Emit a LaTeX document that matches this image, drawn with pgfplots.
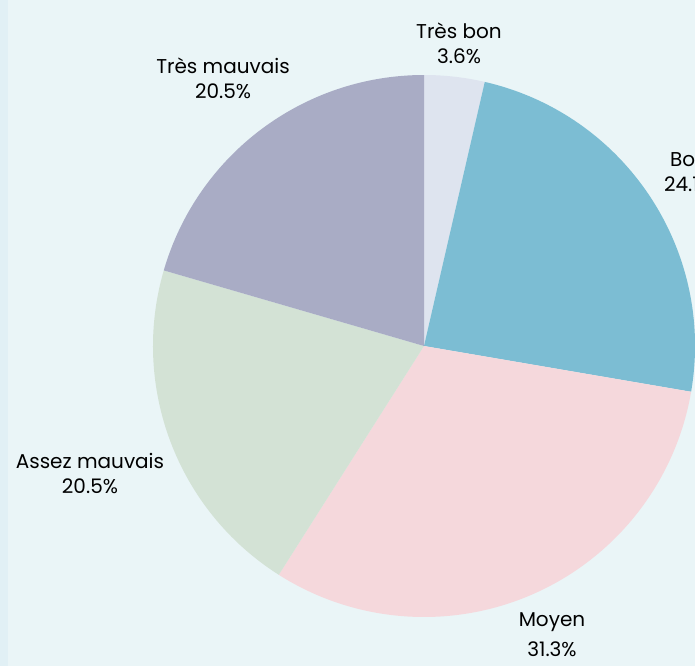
\documentclass[border=0pt]{standalone}
\usepackage{fontspec}
\setmainfont{Poppins}
\usepackage{pgfplots}
\pgfplotsset{compat=1.18}
\usepackage{pgfplotstable}
\definecolor{bgColor}{HTML}{EAF5F7}
\definecolor{stripColor}{HTML}{E1F0F5}
\definecolor{cTresBon}{HTML}{DEE4EF}
\definecolor{cBon}{HTML}{7CBDD3}
\definecolor{cMoyen}{HTML}{F5D8DC}
\definecolor{cAssez}{HTML}{D3E2D5}
\definecolor{cTresMauvais}{HTML}{A9ACC5}

% share of each answer, clockwise from the top
\pgfplotstableread[col sep=comma]{
pct,col
3.6,cTresBon
24.1,cBon
31.3,cMoyen
20.5,cAssez
20.5,cTresMauvais
}\pietable

\begin{document}
\begin{tikzpicture}
    % 1 px of the reference = 0.5pt
    \begin{axis}[
        scale only axis,
        width=347.5pt,
        height=333pt,
        xmin=-424, xmax=271,
        ymin=-320, ymax=346,
        axis lines=none,
        clip=true,
        axis background/.style={fill=bgColor},
    ]
        \fill[stripColor] (axis cs:-424,-320) rectangle (axis cs:-416,346);

        \def\cum{0}
        \pgfplotsforeachungrouped \i in {0,...,4}{
            \pgfplotstablegetelem{\i}{pct}\of\pietable \let\p=\pgfplotsretval
            \pgfplotstablegetelem{\i}{col}\of\pietable \let\c=\pgfplotsretval
            \pgfmathsetmacro\a{90-3.6*\cum}
            \pgfmathsetmacro\b{90-3.6*(\cum+\p)}
            \edef\slice{\noexpand\fill[\c] (axis cs:0,0) -- (axis cs:{271*cos(\a)},{271*sin(\a)})
                arc[start angle=\a, end angle=\b, radius=135.5pt] -- cycle;}
            \slice
            \pgfmathsetmacro\cum{\cum+\p}
        }

        % the Bon label runs off the right edge, as in the original
        \begin{scope}[every node/.style={align=center, font=\fontsize{10}{12.5}\selectfont, text=black}]
            \node at (axis cs:35,303) {Très bon\\3.6\%};
            \node at (axis cs:265,174) {Bon\\24.1\%};
            \node at (axis cs:128,-289) {Moyen\\[2.5pt]31.3\%};
            \node at (axis cs:-334,-128) {Assez mauvais\\20.5\%};
            \node at (axis cs:-201,268) {Très mauvais\\20.5\%};
        \end{scope}
    \end{axis}
\end{tikzpicture}
\end{document}
